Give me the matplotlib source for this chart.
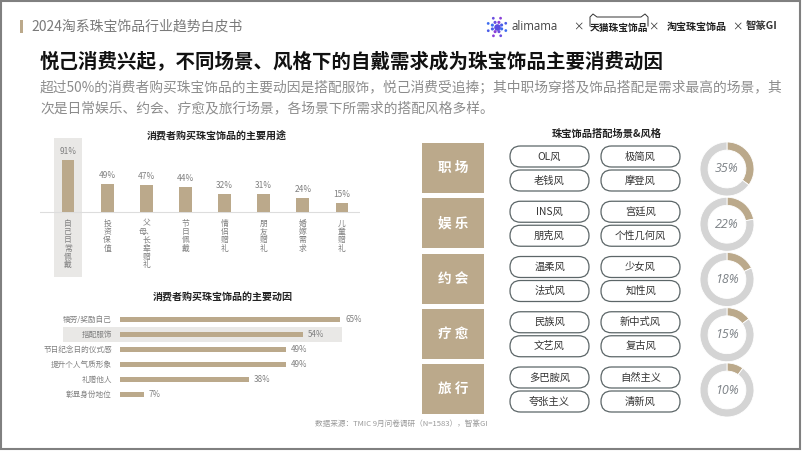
import matplotlib
matplotlib.use('Agg')
import matplotlib.pyplot as plt
import numpy as np
from matplotlib.patches import FancyBboxPatch, Rectangle

plt.rcParams['font.family'] = ['Noto Sans CJK SC', 'DejaVu Sans']

# 数据
usage_labels = ['自己日常佩戴', '投资保值', '父母、长辈赠礼', '节日佩戴',
                '情侣赠礼', '朋友赠礼', '婚嫁需求', '儿童赠礼']
usage_values = [91, 49, 47, 44, 32, 31, 24, 15]

motive_labels = ['犒劳/奖励自己', '搭配服饰', '节日纪念日的仪式感',
                 '提升个人气质形象', '礼赠他人', '彰显身份地位']
motive_values = [65, 54, 49, 49, 38, 7]

scenes = ['职 场', '娱 乐', '约 会', '疗 愈', '旅 行']
scene_styles = [
    ['OL风', '极简风', '老钱风', '摩登风'],
    ['INS风', '宫廷风', '朋克风', '个性几何风'],
    ['温柔风', '少女风', '法式风', '知性风'],
    ['民族风', '新中式风', '文艺风', '复古风'],
    ['多巴胺风', '自然主义', '夸张主义', '清新风'],
]
scene_shares = [35, 22, 18, 15, 10]

header = '2024淘系珠宝饰品行业趋势白皮书'
title = '悦己消费兴起，不同场景、风格下的自戴需求成为珠宝饰品主要消费动因'
subtitle = ['超过50%的消费者购买珠宝饰品的主要动因是搭配服饰，悦己消费受追捧；其中职场穿搭及饰品搭配是需求最高的场景，其',
            '次是日常娱乐、约会、疗愈及旅行场景，各场景下所需求的搭配风格多样。']
source = '数据来源：TMIC 9月问卷调研（N=1583），智篆GI'

TAN = '#bba98b'
RING_GRAY = '#d4d4d4'
HL_GRAY = '#e9e8e6'
TXT_GRAY = '#808080'

W, H = 802, 451
fig = plt.figure(figsize=(W / 100, H / 100), dpi=100)
base = fig.add_axes([0, 0, 1, 1])
base.set_xlim(0, W)
base.set_ylim(H, 0)
base.axis('off')


def px_axes(x, y, w, h):
    # 按像素位置放一个子坐标轴
    a = fig.add_axes([x / W, 1 - (y + h) / H, w / W, h / H])
    a.axis('off')
    return a


# 外框
base.add_patch(Rectangle((1, 1), W - 3, H - 3, fill=False, edgecolor='#808080', lw=1.5))

# 页眉
base.add_patch(Rectangle((20, 20), 2.5, 13, color=TAN, lw=0))
base.text(31, 27, header, fontsize=10, color='#7a7a7a', va='center')

# logo 区
base.scatter([497], [27], s=14, color='#5b4de0', zorder=3)
for r, s in [(5, 5), (9.5, 4)]:
    ang = np.deg2rad(np.arange(0, 360, 45) + 22)
    base.scatter(497 + r * np.cos(ang), 27 + r * np.sin(ang), s=s,
                 color=['#3d6cf0', '#6a4fe0', '#8b3fd8', '#4b5de8'] * 2, zorder=3, lw=0)
base.text(511, 27, 'alimama', fontsize=8.3, color='#444444', va='center',
          family=['Open Sans', 'DejaVu Sans'])
base.text(578, 27, '×', fontsize=7.5, color='#333333', va='center', ha='center')
base.plot([590, 590, 593, 597, 641, 645, 648, 648], [26, 17, 14, 17, 17, 14, 17, 26],
          color='#333333', lw=0.7)
base.text(619, 28, '天猫珠宝饰品', fontsize=7, color='#222222', va='center', ha='center', weight='bold')
base.text(653, 27, '×', fontsize=7.5, color='#333333', va='center', ha='center')
base.text(697, 27, '淘宝珠宝饰品', fontsize=7.2, color='#222222', va='center', ha='center', weight='bold')
base.text(737, 27, '×', fontsize=7.5, color='#333333', va='center', ha='center')
base.text(762, 26, '智篆GI', fontsize=7.5, color='#333333', va='center', ha='center', weight='bold')

# 标题与说明
base.text(40, 62, title, fontsize=14, weight='bold', color='#111111', va='center')
base.text(40, 88, subtitle[0], fontsize=9.9, color='#8c8c8c', va='center')
base.text(40, 108, subtitle[1], fontsize=9.9, color='#8c8c8c', va='center')

# 图1：主要用途（柱状图）
ax1 = px_axes(40, 138, 320, 139)
n1 = len(usage_values)
xs = list(range(n1))
ax1.set_xlim(-0.715, 7.46)
ax1.set_ylim(-114, 129.8)
ax1.axvspan(-0.37, 0.37, color=HL_GRAY, lw=0, zorder=0)
ax1.axhline(0, color='#dddddd', lw=0.8, zorder=1)
ax1.bar(xs, usage_values, width=0.33, color=TAN, zorder=2)
for i, v in enumerate(usage_values):
    ax1.annotate(f'{v}%', xy=(i, v), xytext=(0, 3), textcoords='offset points',
                 ha='center', va='bottom', fontsize=6, color=TXT_GRAY)
    lab = usage_labels[i]
    chars = []
    for c in lab:
        if c == '、' and chars:
            chars[-1] += c
        else:
            chars.append(c)
    ax1.annotate('\n'.join(chars), xy=(i, 0), xytext=(0, -5.5), textcoords='offset points',
                 ha='center', va='top', fontsize=5.6, color=TXT_GRAY, linespacing=1.05)
base.text(217, 135, '消费者购买珠宝饰品的主要用途', fontsize=7.2, weight='bold',
          color='#222222', ha='center', va='center')

# 图2：主要动因（条形图）
ax2 = px_axes(20, 312, 380, 90)
ax2.set_xlim(-29.54, 82.7)
ax2.set_ylim(5.5, -0.5)
ys = list(range(len(motive_values)))
ax2.add_patch(Rectangle((-16.8, 1 - 0.53), 82.4, 1.06, color=HL_GRAY, lw=0, zorder=0))
ax2.barh(ys, motive_values, height=0.35, color=TAN, zorder=2)
for i, v in enumerate(motive_values):
    ax2.text(v + 1.5, i, f'{v}%', fontsize=5.8, color=TXT_GRAY, va='center', ha='left')
    ax2.text(-2.4, i, motive_labels[i], fontsize=5.5, color=TXT_GRAY, va='center', ha='right')
base.text(223, 298, '消费者购买珠宝饰品的主要动因', fontsize=7.2, weight='bold',
          color='#222222', ha='center', va='center')

base.text(488, 424, source, fontsize=5.5, color='#9a9a9a', ha='right', va='center')

# 右侧：场景&风格
base.text(607, 134, '珠宝饰品搭配场景&风格', fontsize=7.4, weight='bold',
          color='#222222', ha='center', va='center')
pitch = 55.25
for k, scene in enumerate(scenes):
    top = 143 + k * pitch
    base.add_patch(Rectangle((422, top), 62, 50, color=TAN, lw=0))
    base.text(453, top + 25, scene, fontsize=9.8, weight='bold', color='white',
              ha='center', va='center')
    for j, style in enumerate(scene_styles[k]):
        col, row = j % 2, j // 2
        px = 510 if col == 0 else 601
        cy = top + 13.5 + row * 24
        base.add_patch(FancyBboxPatch((px, cy - 10.5), 79, 21,
                                      boxstyle='round,pad=0,rounding_size=10.5',
                                      facecolor='white', edgecolor='#5c6668', lw=0.9))
        base.text(px + 39.5, cy, style, fontsize=7.4, color='#333333',
                  ha='center', va='center')
    # 环形图
    axd = px_axes(727 - 27, top + 26 - 27, 54, 54)
    v = scene_shares[k]
    axd.pie([v, 100 - v], colors=[TAN, RING_GRAY], startangle=90, counterclock=False,
            radius=1, wedgeprops=dict(width=0.3, edgecolor='white', linewidth=0.6))
    axd.set_xlim(-1, 1)
    axd.set_ylim(-1, 1)
    axd.set_aspect('equal')
    axd.text(0, 0, f'{v}%', fontsize=9, style='italic', color='#7c8186',
             ha='center', va='center', family=['Open Sans', 'DejaVu Sans'])

fig.savefig('out.png', dpi=100)
